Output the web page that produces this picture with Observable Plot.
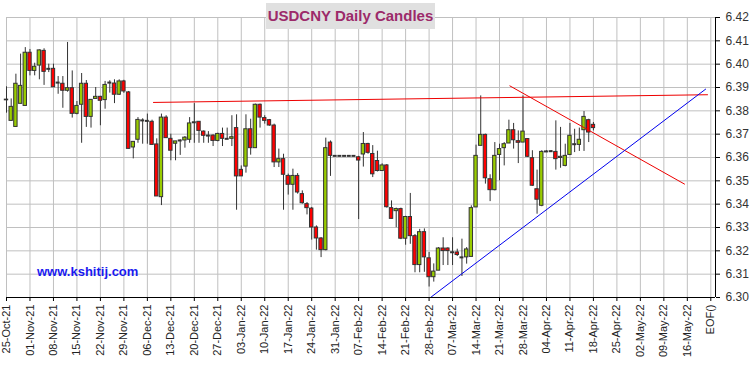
<!DOCTYPE html>
<html>
<head>
<meta charset="utf-8">
<script src="https://cdn.jsdelivr.net/npm/d3@7"></script>
<script src="https://cdn.jsdelivr.net/npm/@observablehq/plot@0.6"></script>
<style>
  html, body { margin: 0; padding: 0; background: #ffffff; }
  #wrap { position: relative; width: 750px; height: 366px; font-family: "Liberation Sans", Arial, sans-serif; }
  #title { position: absolute; left: 266px; top: 3px; width: 169px; height: 26px; line-height: 26px;
           background: #e0e0e0; color: #9c2a6a; font-weight: bold; font-size: 15px; text-align: center; }
  #mark { position: absolute; left: 37px; top: 265px; line-height: 13px; color: #1a1af0;
          font-weight: bold; font-size: 13px; }
</style>
</head>
<body>
<div id="wrap">
  <div id="chart"></div>
  <div id="title">USDCNY Daily Candles</div>
  <div id="mark">www.kshitij.com</div>
</div>
<script>
// x tick labels (one per week, every 5 trading days)
const xTickLabels = ["25-Oct-21","01-Nov-21","08-Nov-21","15-Nov-21","22-Nov-21","29-Nov-21","06-Dec-21","13-Dec-21","20-Dec-21","27-Dec-21","03-Jan-22","10-Jan-22","17-Jan-22","24-Jan-22","31-Jan-22","07-Feb-22","14-Feb-22","21-Feb-22","28-Feb-22","07-Mar-22","14-Mar-22","21-Mar-22","28-Mar-22","04-Apr-22","11-Apr-22","18-Apr-22","25-Apr-22","02-May-22","09-May-22","16-May-22","EOF()"];
const xTicks = xTickLabels.map((_, k) => k * 5);
const yTicks = [6.30, 6.31, 6.32, 6.33, 6.34, 6.35, 6.36, 6.37, 6.38, 6.39, 6.40, 6.41, 6.42];

// daily OHLC, one per weekday from 25-Oct-21
const open = [6.3848,6.3757,6.3731,6.3830,6.3821,6.4049,6.3971,6.3994,6.4057,6.3980,
6.3980,6.3921,6.3916,6.3886,6.3897,6.3787,6.3826,6.3916,6.3774,6.3851,
6.3860,6.3846,6.3921,6.3917,6.3869,6.3926,6.3879,6.3643,6.3676,6.3759,
6.3757,6.3753,6.3656,6.3430,6.3771,6.3680,6.3659,6.3673,6.3673,6.3676,
6.3751,6.3753,6.3711,6.3694,6.3694,6.3671,6.3701,6.3680,6.3680,6.3726,
6.3547,6.3561,6.3721,6.3640,6.3826,6.3769,6.3760,6.3737,6.3579,6.3593,
6.3521,6.3483,6.3521,6.3443,6.3400,6.3381,6.3300,6.3253,6.3203,6.3664,
6.3607,6.3607,6.3607,6.3607,6.3607,6.3601,6.3613,6.3658,6.3615,6.3585,
6.3542,6.3566,6.3383,6.3370,6.3379,6.3252,6.3345,6.3263,6.3139,6.3280,
6.3168,6.3087,6.3115,6.3210,6.3210,6.3194,6.3193,6.3172,6.3172,6.3174,
6.3386,6.3650,6.3697,6.3507,6.3460,6.3611,6.3640,6.3660,6.3717,6.3670,
6.3664,6.3679,6.3597,6.3464,6.3393,6.3626,6.3627,6.3624,6.3598,6.3564,
6.3611,6.3657,6.3654,6.3717,6.3760,6.3740];
const high = [6.3903,6.3851,6.3957,6.4043,6.4071,6.4063,6.4004,6.4061,6.4066,6.4000,
6.4000,6.3947,6.3947,6.4093,6.3971,6.3840,6.3960,6.3930,6.3847,6.3900,
6.3862,6.3926,6.3929,6.3933,6.3933,6.3931,6.3883,6.3667,6.3771,6.3766,
6.3786,6.3760,6.3680,6.3786,6.3779,6.3700,6.3669,6.3676,6.3690,6.3771,
6.3831,6.3753,6.3714,6.3711,6.3697,6.3704,6.3726,6.3726,6.3779,6.3783,
6.3564,6.3783,6.3764,6.3829,6.3829,6.3779,6.3763,6.3743,6.3636,6.3614,
6.3529,6.3550,6.3531,6.3457,6.3407,6.3386,6.3307,6.3257,6.3683,6.3671,
6.3607,6.3607,6.3607,6.3607,6.3607,6.3605,6.3707,6.3661,6.3651,6.3627,
6.3573,6.3570,6.3414,6.3383,6.3383,6.3348,6.3446,6.3270,6.3292,6.3294,
6.3193,6.3144,6.3214,6.3256,6.3213,6.3256,6.3207,6.3250,6.3214,6.3393,
6.3653,6.3864,6.3700,6.3526,6.3664,6.3657,6.3664,6.3760,6.3746,6.3714,
6.3864,6.3681,6.3629,6.3546,6.3629,6.3629,6.3630,6.3757,6.3729,6.3657,
6.3746,6.3721,6.3726,6.3797,6.3764,6.3750];
const low = [6.3790,6.3755,6.3730,6.3830,6.3821,6.3950,6.3950,6.3933,6.3909,6.3964,
6.3901,6.3871,6.3811,6.3880,6.3769,6.3783,6.3661,6.3729,6.3726,6.3851,
6.3736,6.3807,6.3876,6.3831,6.3866,6.3875,6.3637,6.3594,6.3661,6.3657,
6.3657,6.3654,6.3433,6.3394,6.3683,6.3586,6.3586,6.3609,6.3640,6.3661,
6.3661,6.3661,6.3661,6.3661,6.3647,6.3667,6.3647,6.3680,6.3647,6.3374,
6.3519,6.3533,6.3610,6.3640,6.3726,6.3743,6.3734,6.3557,6.3557,6.3374,
6.3439,6.3374,6.3443,6.3400,6.3354,6.3246,6.3203,6.3171,6.3200,6.3519,
6.3607,6.3607,6.3607,6.3607,6.3607,6.3334,6.3559,6.3614,6.3514,6.3538,
6.3542,6.3383,6.3337,6.3299,6.3248,6.3224,6.3228,6.3106,6.3106,6.3108,
6.3045,6.3066,6.3115,6.3137,6.3137,6.3137,6.3176,6.3090,6.3143,6.3174,
6.3386,6.3650,6.3486,6.3411,6.3457,6.3500,6.3564,6.3660,6.3636,6.3574,
6.3664,6.3600,6.3476,6.3357,6.3389,6.3623,6.3625,6.3546,6.3554,6.3560,
6.3608,6.3621,6.3626,6.3626,6.3664,6.3714];
const close = [6.3845,6.3817,6.3916,6.3907,6.4049,6.3971,6.3989,6.4059,6.3967,6.3977,
6.3901,6.3921,6.3886,6.3897,6.3787,6.3821,6.3916,6.3774,6.3847,6.3860,
6.3843,6.3911,6.3921,6.3869,6.3926,6.3883,6.3637,6.3667,6.3761,6.3759,
6.3756,6.3654,6.3433,6.3771,6.3683,6.3629,6.3669,6.3672,6.3685,6.3746,
6.3751,6.3714,6.3693,6.3694,6.3671,6.3701,6.3680,6.3680,6.3687,6.3519,
6.3519,6.3721,6.3640,6.3826,6.3771,6.3757,6.3737,6.3579,6.3593,6.3526,
6.3483,6.3521,6.3450,6.3404,6.3383,6.3300,6.3253,6.3203,6.3640,6.3607,
6.3607,6.3607,6.3607,6.3607,6.3607,6.3587,6.3658,6.3620,6.3528,6.3542,
6.3566,6.3387,6.3337,6.3379,6.3252,6.3345,6.3263,6.3139,6.3280,6.3172,
6.3087,6.3111,6.3210,6.3199,6.3199,6.3194,6.3182,6.3172,6.3206,6.3383,
6.3607,6.3697,6.3511,6.3460,6.3607,6.3636,6.3657,6.3717,6.3674,6.3663,
6.3711,6.3603,6.3479,6.3419,6.3624,6.3626,6.3627,6.3593,6.3603,6.3607,
6.3693,6.3657,6.3676,6.3774,6.3707,6.3726];

// trend lines (bar index, price)
const resistX = [31.3, 149.3], resistY = [6.3836, 6.3869];
const downX = [107.2, 144.4], downY = [6.3907, 6.3486];
const upX = [90.5, 148.9], upY = [6.3003, 6.3893];

const candles = open.map((o, i) => ({i, o, h: high[i], l: low[i], c: close[i]}));
const ups = candles.filter(d => d.c - d.o > 0.0003);
const downs = candles.filter(d => d.o - d.c > 0.0003);
const dojis = candles.filter(d => Math.abs(d.c - d.o) <= 0.0003);
const toPts = (xs, ys) => xs.map((x, k) => ({x, y: ys[k]}));

const GREEN = "#99cc00", RED = "#ff0000", EDGE = "#333333";
const hw = 0.36;

const chart = Plot.plot({
  width: 750,
  height: 366,
  marginLeft: 6,
  marginRight: 35,
  marginTop: 17,
  marginBottom: 69,
  x: {type: "linear", domain: [0, 151]},
  y: {domain: [6.30, 6.42]},
  style: {fontFamily: "'Liberation Sans', Arial, sans-serif", background: "#ffffff", color: "#333"},
  marks: [
    Plot.gridX(xTicks, {stroke: "#c0c0c0", strokeOpacity: 1}),
    Plot.gridY(yTicks, {stroke: "#c0c0c0", strokeOpacity: 1}),
    Plot.ruleX(candles, {x: "i", y1: "l", y2: "h", stroke: EDGE, strokeWidth: 1}),
    Plot.rect(ups, {x1: d => d.i - hw, x2: d => d.i + hw, y1: "o", y2: "c", fill: GREEN, stroke: EDGE, strokeWidth: 1}),
    Plot.rect(downs, {x1: d => d.i - hw, x2: d => d.i + hw, y1: "o", y2: "c", fill: RED, stroke: EDGE, strokeWidth: 1}),
    Plot.ruleY(dojis, {x1: d => d.i - 0.42, x2: d => d.i + 0.42, y: "o", stroke: EDGE, strokeWidth: 2}),
    Plot.line(toPts(resistX, resistY), {x: "x", y: "y", stroke: "#ee0000", strokeWidth: 1}),
    Plot.line(toPts(downX, downY), {x: "x", y: "y", stroke: "#ee0000", strokeWidth: 1}),
    Plot.line(toPts(upX, upY), {x: "x", y: "y", stroke: "#0000ee", strokeWidth: 1}),
    Plot.ruleY([6.30], {stroke: "#000", strokeWidth: 1}),
    Plot.ruleX([151], {stroke: "#000", strokeWidth: 1}),
    Plot.axisX(xTicks, {tickFormat: d => xTickLabels[Math.round(d / 5)], tickRotate: -90, tickSize: 4, tickPadding: 3, fontSize: 11, fill: "#222", stroke: "#000", label: null}),
    Plot.axisY(yTicks, {anchor: "right", tickFormat: d => d.toFixed(2), tickSize: 4, tickPadding: 6, fontSize: 12, fill: "#333", stroke: "#000", label: null})
  ]
});
document.getElementById("chart").appendChild(chart);
</script>
</body>
</html>
